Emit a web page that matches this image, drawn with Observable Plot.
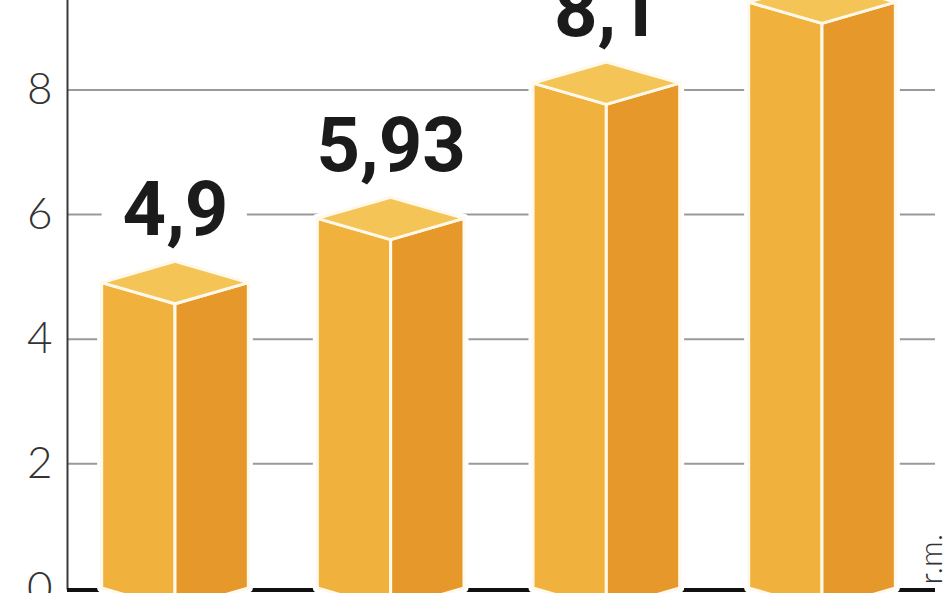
<!DOCTYPE html>
<html>
<head>
<meta charset="utf-8">
<script src="https://cdn.jsdelivr.net/npm/d3@7"></script>
<script src="https://cdn.jsdelivr.net/npm/@observablehq/plot@0.6"></script>
<style>
  html, body { margin: 0; padding: 0; background: #fff; }
  #chart { width: 948px; height: 593px; overflow: hidden; }
  #chart svg { display: block; }
</style>
</head>
<body>
<div id="chart"></div>
<script>
// ---- data ----
const categories = ["A", "B", "C", "D"];
const values = [4.9, 5.93, 8.1, 9.4];
const valueLabels = ["4,9", "5,93", "8,1", "9,4"];
const yTicks = [0, 2, 4, 6, 8];
const gridTicks = [2, 4, 6, 8];
const unitLabel = "r.m.";

// ---- colours ----
const cLeft = "#F1B23D";
const cRight = "#E7982A";
const cTop = "#F5C456";
const cEdge = "#FFF9EC";

// ---- 3D box geometry built from the values ----
const halfW = 0.34;   // half bar width, in category-index units
const depth = 0.34;   // visual depth, in y units

const idx = values.map((_, i) => i);
const faces = [];
const silhouettes = [];
values.forEach((v, i) => {
  const k = categories[i];
  faces.push(
    {id: k + "L", face: "L", x: i - halfW, y1: 0, y2: v},
    {id: k + "L", face: "L", x: i, y1: -depth, y2: v - depth},
    {id: k + "R", face: "R", x: i, y1: -depth, y2: v - depth},
    {id: k + "R", face: "R", x: i + halfW, y1: 0, y2: v},
    {id: k + "T", face: "T", x: i - halfW, y1: v, y2: v},
    {id: k + "T", face: "T", x: i, y1: v - depth, y2: v + depth},
    {id: k + "T", face: "T", x: i + halfW, y1: v, y2: v}
  );
  silhouettes.push(
    {id: k, x: i - halfW, y1: 0, y2: v},
    {id: k, x: i, y1: -depth, y2: v + depth},
    {id: k, x: i + halfW, y1: 0, y2: v}
  );
});
const faceColor = {L: cLeft, R: cRight, T: cTop};

const chart = Plot.plot({
  width: 948,
  height: 593,
  marginLeft: 67,
  marginRight: 13,
  marginTop: 0,
  marginBottom: 5,
  style: {fontFamily: "Lato, 'Open Sans', sans-serif", background: "#fff"},
  x: {domain: [0, values.length - 1], range: [175, 822], axis: null},
  y: {domain: [0, 8], range: [588, 89.4], axis: null},
  marks: [
    Plot.ruleY(gridTicks, {stroke: "#9a9a9a", strokeWidth: 2}),
    Plot.frame({anchor: "left", stroke: "#3a3a3a", strokeWidth: 2}),
    Plot.ruleY([0], {stroke: "#111", strokeWidth: 4, dy: 1.5}),
    Plot.axisY(yTicks, {
      tickSize: 0, tickPadding: 15, fontSize: 44, fontWeight: 300,
      fill: "#333", label: null, fontFamily: "Lato",
      tickFormat: d => String(d)
    }),
    Plot.text(idx, {
      x: i => i, y: i => values[i], text: i => valueLabels[i],
      fontSize: 76, fontWeight: 700, fontFamily: "Roboto",
      fill: "#1b1b1b", stroke: "#fff", strokeWidth: 46,
      strokeLinejoin: "round", paintOrder: "stroke", dy: -72
    }),
    Plot.areaY(silhouettes, {
      x: "x", y1: "y1", y2: "y2", z: "id",
      fill: "#fff", stroke: "#fff", strokeWidth: 9, strokeLinejoin: "round"
    }),
    Plot.areaY(faces, {
      x: "x", y1: "y1", y2: "y2", z: "id",
      fill: d => faceColor[d.face], stroke: cEdge, strokeWidth: 3,
      strokeLinejoin: "round"
    }),
    Plot.text([unitLabel], {
      frameAnchor: "bottom-right", rotate: -90, textAnchor: "start",
      fontSize: 32, fontWeight: 300, fontFamily: "Lato", fill: "#333",
      dx: 6, dy: -4
    })
  ]
});
document.getElementById("chart").appendChild(chart);
</script>
</body>
</html>
